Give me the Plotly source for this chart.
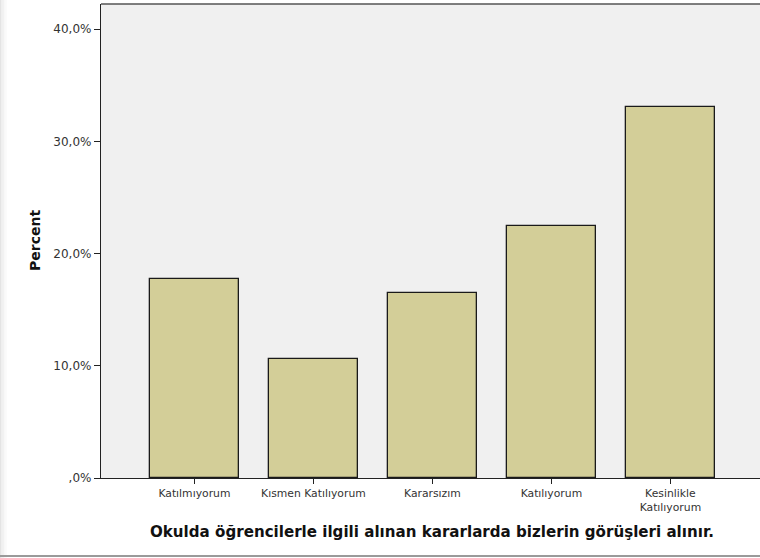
import plotly.graph_objects as go

categories = ["Katılmıyorum", "Kısmen Katılıyorum", "Kararsızım", "Katılıyorum", "Kesinlikle<br>Katılıyorum"]
percent = [17.7, 10.6, 16.5, 22.5, 33.1]
y_tickvals = [0, 10, 20, 30, 40]
y_ticktext = [",0%", "10,0%", "20,0%", "30,0%", "40,0%"]

W, H = 760, 558
L, R, T, B = 101, 0, 4, 80
pw, ph = W - L - R, H - T - B

def px_x(x):
    return (x - L) / pw

def px_y(y):
    return (H - B - y) / ph

xs = list(range(len(categories)))

fig = go.Figure(go.Bar(
    x=xs, y=percent, width=0.748,
    marker=dict(color="#d3ce98", line=dict(color="#1a1a1a", width=1.3)),
))

shapes = [
    dict(type="line", xref="paper", yref="paper", x0=0, x1=1, y0=1, y1=1,
         line=dict(color="#555555", width=1.5)),
    dict(type="line", xref="paper", yref="paper", x0=px_x(0), x1=px_x(W), y0=px_y(556), y1=px_y(556),
         line=dict(color="#9a9a9a", width=2)),
]
for i, c in enumerate(["#e4e4e4", "#ececec", "#f2f2f2", "#f7f7f7", "#fbfbfb"]):
    shapes.append(dict(type="rect", xref="paper", yref="paper", x0=px_x(i * 1.4), x1=px_x(i * 1.4 + 1.4),
                       y0=px_y(H), y1=px_y(0), line=dict(width=0), fillcolor=c, layer="below"))

fig.update_layout(
    width=W, height=H,
    margin=dict(l=L, r=R, t=T, b=B),
    paper_bgcolor="white", plot_bgcolor="#f0f0f0",
    font=dict(family="DejaVu Sans", color="#222222"),
    showlegend=False,
    bargap=0,
    xaxis=dict(
        tickvals=xs, ticktext=categories, range=[-0.785, 4.753],
        ticks="outside", ticklen=5, tickcolor="#222", tickwidth=1.2,
        showline=True, linecolor="#222", linewidth=1.3,
        showgrid=False, zeroline=False, tickfont=dict(size=10.8, color="#333"),
        tickangle=0, fixedrange=True,
    ),
    yaxis=dict(
        tickvals=y_tickvals, ticktext=y_ticktext, range=[0, 42.25],
        ticks="outside", ticklen=6, tickcolor="#222", tickwidth=1.2,
        showline=True, linecolor="#222", linewidth=1.3,
        showgrid=False, zeroline=False, tickfont=dict(size=12, color="#333"),
        fixedrange=True,
    ),
    shapes=shapes,
    annotations=[
        dict(text="<b>Okulda öğrencilerle ilgili alınan kararlarda bizlerin görüşleri alınır.</b>",
             xref="paper", yref="paper", x=px_x(432), y=px_y(532), xanchor="center", yanchor="middle",
             showarrow=False, font=dict(size=15.1, color="#111")),
        dict(text="<b>Percent</b>", textangle=-90,
             xref="paper", yref="paper", x=px_x(35), y=px_y(241), xanchor="center", yanchor="middle",
             showarrow=False, font=dict(size=14, color="#111")),
    ],
)

fig.write_html("out.html", config={"displayModeBar": False},
               post_script="document.body.style.margin='0';document.body.style.overflow='hidden';")
